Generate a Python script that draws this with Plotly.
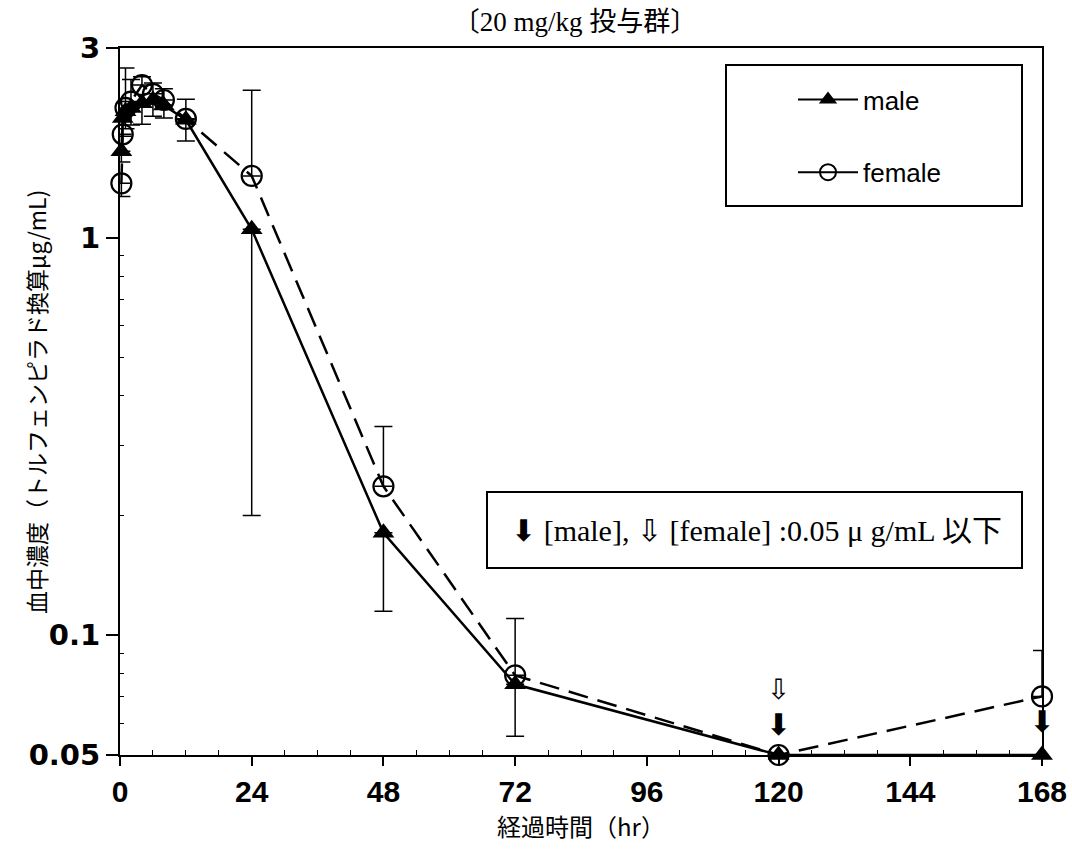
import plotly.graph_objects as go

# ---- data ----
time_hr = [0.25, 0.5, 1, 2, 4, 6, 8, 12, 24, 48, 72, 120, 168]
male_mean = [1.65, 2.00, 2.08, 2.12, 2.18, 2.22, 2.15, 1.98, 1.05, 0.181, 0.0753, 0.05, 0.05]
male_sd_minus = [0.10, 0.20, 0.20, 0.20, 0.25, 0.20, 0.15, 0.23, 0.85, 0.066, 0.0196, 0.0, 0.0]
male_sd_plus = [0.0, 0.0, 0.0, 0.0, 0.0, 0.0, 0.0, 0.0, 0.0, 0.0, 0.0, 0.0, 0.0]
female_mean = [1.37, 1.82, 2.12, 2.20, 2.42, 2.30, 2.22, 1.99, 1.43, 0.237, 0.0793, 0.05, 0.0702]
female_sd_plus = [0.0, 0.20, 0.55, 0.30, 0.12, 0.15, 0.15, 0.24, 0.92, 0.098, 0.031, 0.0, 0.0214]
female_sd_minus = [0.10, 0.0, 0.0, 0.0, 0.0, 0.0, 0.0, 0.0, 0.0, 0.0, 0.0, 0.0, 0.0]

# below-limit markers (0.05 ug/mL or less)
bql_male_x = [120, 168]
bql_male_y = [0.0585, 0.0595]
bql_female_x = [120]
bql_female_y = [0.0722]

x_ticks = [0, 24, 48, 72, 96, 120, 144, 168]
x_minor = [6, 12, 18, 30, 36, 42, 54, 60, 66, 78, 84, 90, 102, 108, 114, 126, 132, 138, 150, 156, 162]
y_ticks = [0.05, 0.1, 1, 3]
y_tick_text = ["0.05", "0.1", "1", "3"]
y_minor = [0.06, 0.07, 0.08, 0.09, 0.2, 0.3, 0.4, 0.5, 0.6, 0.7, 0.8, 0.9, 2]

title_text = "〔20 mg/kg 投与群〕"
x_title = "経過時間（hr）"
y_title = "血中濃度（トルフェンピラド換算μg/mL)"
note_text = "⬇ [male], ⇩ [female] :0.05 μ g/mL 以下"

# ---- layout geometry (pixels) ----
W, H = 1072, 849
L, R, T, B = 120, 30, 48, 94
pw, ph = W - L - R, H - T - B

def px(xp):
    return (xp - L) / pw

def py(yp):
    return 1 - (yp - T) / ph

fig = go.Figure()

fig.add_trace(go.Scatter(
    x=time_hr, y=male_mean, mode="lines+markers", name="male", showlegend=False,
    line=dict(color="black", width=2.5),
    marker=dict(symbol="triangle-up", size=19, color="black"),
    error_y=dict(type="data", symmetric=False, array=male_sd_plus, arrayminus=male_sd_minus,
                 visible=True, color="black", thickness=1.5, width=9),
    cliponaxis=False,
))
fig.add_trace(go.Scatter(
    x=time_hr, y=female_mean, mode="lines+markers", name="female", showlegend=False,
    line=dict(color="black", width=2.5, dash="20px,10px"),
    marker=dict(symbol="circle-open", size=20, color="black", line=dict(width=2.2)),
    error_y=dict(type="data", symmetric=False, array=female_sd_plus, arrayminus=female_sd_minus,
                 visible=True, color="black", thickness=1.5, width=9),
    cliponaxis=False,
))

# below-limit arrows
fig.add_trace(go.Scatter(
    x=bql_male_x, y=bql_male_y, mode="text", text=["⬇"] * len(bql_male_x),
    textfont=dict(family="DejaVu Sans", size=30, color="black"), showlegend=False,
    cliponaxis=False, hoverinfo="skip",
))
fig.add_trace(go.Scatter(
    x=bql_female_x, y=bql_female_y, mode="text", text=["⇩"] * len(bql_female_x),
    textfont=dict(family="DejaVu Sans", size=28, color="black"), showlegend=False,
    cliponaxis=False, hoverinfo="skip",
))

# legend entries (solid lines as in the reference legend)
fig.add_trace(go.Scatter(
    x=[None], y=[None], mode="lines+markers", name="male", legendgroup="m",
    line=dict(color="black", width=2), marker=dict(symbol="triangle-up", size=19, color="black"),
))
fig.add_trace(go.Scatter(
    x=[None], y=[None], mode="lines+markers", name="female", legendgroup="f",
    line=dict(color="black", width=2),
    marker=dict(symbol="circle-open", size=20, color="black", line=dict(width=2)),
))

fig.update_layout(
    width=W, height=H,
    margin=dict(l=L, r=R, t=T, b=B),
    paper_bgcolor="white", plot_bgcolor="white",
    title=dict(text=title_text, x=0.5365, xanchor="center", y=1 - 22 / H, yanchor="middle",
               xref="container", yref="container",
               font=dict(family="Liberation Serif, Noto Sans CJK JP", size=27, color="black")),
    legend=dict(x=px(870), y=py(136), xanchor="center", yanchor="middle",
                bgcolor="rgba(0,0,0,0)", borderwidth=0, tracegroupgap=36, itemwidth=60,
                font=dict(family="Liberation Sans, Arial", size=26, color="black")),
    showlegend=True,
)

fig.update_xaxes(
    range=[0, 168], tickvals=x_ticks, ticks="outside", ticklen=9, tickwidth=1.5, tickcolor="black",
    showline=True, linecolor="black", linewidth=2, mirror=True, showgrid=False, zeroline=False,
    automargin=False, ticklabeloverflow="allow",
    tickfont=dict(family="Liberation Sans, Arial", size=30, color="black", weight="bold"),
    minor=dict(tickvals=x_minor, ticks="inside", ticklen=5, tickwidth=1, tickcolor="black", showgrid=False),
    title=dict(text=x_title, standoff=10,
               font=dict(family="Noto Sans CJK JP", size=24, color="black")),
)
fig.update_yaxes(
    type="log", range=[-1.30103, 0.4771], tickvals=y_ticks, ticktext=y_tick_text,
    ticks="outside", ticklen=12, tickwidth=1.5, tickcolor="black",
    showline=True, linecolor="black", linewidth=2, mirror=True, showgrid=False, zeroline=False,
    automargin=False,
    tickfont=dict(family="DejaVu Sans", size=29, color="black", weight="bold"),
    minor=dict(tickvals=y_minor, ticks="inside", ticklen=4, tickwidth=1, tickcolor="black", showgrid=False),
)

# legend frame
fig.add_shape(type="rect", xref="paper", yref="paper",
              x0=px(726), x1=px(1022), y0=py(206), y1=py(65),
              line=dict(color="black", width=2), fillcolor="rgba(0,0,0,0)")
# note frame
fig.add_shape(type="rect", xref="paper", yref="paper",
              x0=px(487), x1=px(1022), y0=py(568), y1=py(492),
              line=dict(color="black", width=2), fillcolor="white", layer="below")

fig.add_annotation(text=note_text, xref="paper", yref="paper", x=px(756), y=py(530),
                   xanchor="center", yanchor="middle", showarrow=False,
                   font=dict(family="Liberation Serif, DejaVu Sans, Noto Sans CJK JP", size=30, color="black"))

fig.add_annotation(text=y_title, xref="paper", yref="paper", x=px(36), y=py(402),
                   xanchor="center", yanchor="middle", textangle=-90, showarrow=False,
                   font=dict(family="Noto Sans CJK JP", size=23, color="black"))

fig.write_html("out.html")
